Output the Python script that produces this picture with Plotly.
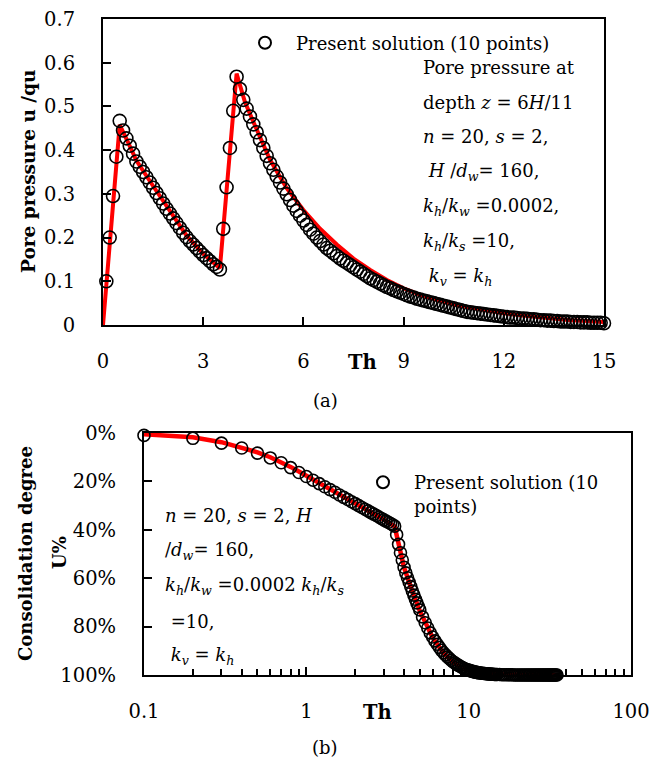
import plotly.graph_objects as go

# (a) pore pressure at depth z = 6H/11, present solution (circles)
t_a = [0.1, 0.2, 0.3, 0.4, 0.5, 0.6, 0.7, 0.8, 0.9, 1.0,
       1.1, 1.2, 1.3, 1.4, 1.5, 1.6, 1.7, 1.8, 1.9, 2.0,
       2.1, 2.2, 2.3, 2.4, 2.5, 2.6, 2.7, 2.8, 2.9, 3.0,
       3.1, 3.2, 3.3, 3.4, 3.5, 3.6, 3.7, 3.8, 3.9, 4.0,
       4.1, 4.2, 4.3, 4.4, 4.5, 4.6, 4.7, 4.8, 4.9, 5.0,
       5.1, 5.2, 5.3, 5.4, 5.5, 5.6, 5.7, 5.8, 5.9, 6.0,
       6.1, 6.2, 6.3, 6.4, 6.5, 6.6, 6.7, 6.8, 6.9, 7.0,
       7.1, 7.2, 7.3, 7.4, 7.5, 7.6, 7.7, 7.8, 7.9, 8.0,
       8.1, 8.2, 8.3, 8.4, 8.5, 8.6, 8.7, 8.8, 8.9, 9.0,
       9.1, 9.2, 9.3, 9.4, 9.5, 9.6, 9.7, 9.8, 9.9, 10.0,
       10.1, 10.2, 10.3, 10.4, 10.5, 10.6, 10.7, 10.8, 10.9, 11.0,
       11.1, 11.2, 11.3, 11.4, 11.5, 11.6, 11.7, 11.8, 11.9, 12.0,
       12.1, 12.2, 12.3, 12.4, 12.5, 12.6, 12.7, 12.8, 12.9, 13.0,
       13.1, 13.2, 13.3, 13.4, 13.5, 13.6, 13.7, 13.8, 13.9, 14.0,
       14.1, 14.2, 14.3, 14.4, 14.5, 14.6, 14.7, 14.8, 14.9, 15.0]
u_a = [0.100, 0.200, 0.295, 0.385, 0.467, 0.445, 0.427, 0.410, 0.392, 0.374,
       0.362, 0.350, 0.338, 0.326, 0.314, 0.302, 0.290, 0.278, 0.266, 0.255,
       0.244, 0.233, 0.222, 0.211, 0.201, 0.192, 0.184, 0.176, 0.168, 0.160,
       0.153, 0.146, 0.139, 0.133, 0.127, 0.220, 0.315, 0.405, 0.490, 0.568,
       0.540, 0.515, 0.495, 0.477, 0.459, 0.441, 0.423, 0.405, 0.387, 0.370,
       0.355, 0.340, 0.326, 0.312, 0.299, 0.286, 0.273, 0.261, 0.250, 0.239,
       0.229, 0.218, 0.209, 0.200, 0.192, 0.184, 0.176, 0.170, 0.164, 0.158,
       0.152, 0.147, 0.142, 0.137, 0.132, 0.127, 0.122, 0.117, 0.112, 0.107,
       0.103, 0.099, 0.095, 0.091, 0.087, 0.084, 0.080, 0.077, 0.074, 0.071,
       0.068, 0.065, 0.063, 0.060, 0.058, 0.056, 0.054, 0.052, 0.050, 0.048,
       0.046, 0.044, 0.042, 0.040, 0.038, 0.036, 0.034, 0.032, 0.030, 0.029,
       0.028, 0.027, 0.026, 0.025, 0.024, 0.023, 0.022, 0.021, 0.020, 0.019,
       0.018, 0.017, 0.017, 0.016, 0.015, 0.015, 0.014, 0.013, 0.013, 0.012,
       0.011, 0.011, 0.010, 0.010, 0.009, 0.009, 0.008, 0.008, 0.008, 0.007,
       0.007, 0.007, 0.006, 0.006, 0.006, 0.005, 0.005, 0.005, 0.005, 0.004]

# (a) analytical solution (red line)
t_a_line = [0, 0.5, 0.75, 1.0, 1.5, 2.0, 2.5, 3.0, 3.5, 4.0, 4.25, 4.5, 5.0, 5.5,
            6.0, 6.5, 7.0, 7.5, 8.0, 8.5, 9.0, 9.5, 10.0, 10.5, 11.0, 11.5,
            12.0, 12.5, 13.0, 13.5, 14.0, 14.5, 15.0]
u_a_line = [0, 0.458, 0.418, 0.376, 0.318, 0.260, 0.205, 0.163, 0.130, 0.575, 0.510,
            0.465, 0.378, 0.313, 0.263, 0.220, 0.184, 0.152, 0.126, 0.103, 0.084,
            0.069, 0.057, 0.047, 0.040, 0.033, 0.027, 0.022, 0.018, 0.014, 0.011,
            0.009, 0.007]

# (b) consolidation degree, present solution (circles)
t_b = [0.1, 0.2, 0.3, 0.4, 0.5, 0.6, 0.7, 0.8, 0.9, 1.0,
       1.1, 1.2, 1.3, 1.4, 1.5, 1.6, 1.7, 1.8, 1.9, 2.0,
       2.1, 2.2, 2.3, 2.4, 2.5, 2.6, 2.7, 2.8, 2.9, 3.0,
       3.1, 3.2, 3.3, 3.4, 3.5, 3.6, 3.7, 3.8, 3.9, 4.0,
       4.1, 4.2, 4.3, 4.4, 4.5, 4.6, 4.7, 4.8, 4.9, 5.0,
       5.2, 5.4, 5.6, 5.8, 6.0, 6.2, 6.4, 6.6, 6.8, 7.0,
       7.2, 7.4, 7.6, 7.8, 8.0, 8.2, 8.4, 8.6, 8.8, 9.0,
       9.2, 9.4, 9.6, 9.8, 10.0, 10.2, 10.4, 10.6, 10.8, 11.0,
       11.2, 11.4, 11.6, 11.8, 12.0, 12.2, 12.4, 12.6, 12.8, 13.0,
       13.2, 13.4, 13.6, 13.8, 14.0, 14.2, 14.4, 14.6, 14.8, 15.0,
       15.5, 16.0, 16.5, 17.0, 17.5, 18.0, 18.5, 19.0, 19.5, 20.0,
       20.5, 21.0, 21.5, 22.0, 22.5, 23.0, 23.5, 24.0, 24.5, 25.0,
       25.5, 26.0, 26.5, 27.0, 27.5, 28.0, 28.5, 29.0, 29.5, 30.0,
       30.5, 31.0, 31.5, 32.0, 32.5, 33.0, 33.5, 34.0, 34.5, 35.0]
U_b = [1.0, 2.2, 4.2, 6.2, 8.3, 10.3, 12.3, 14.3, 16.3, 18.0,
       19.5, 20.9, 22.2, 23.4, 24.5, 25.6, 26.6, 27.5, 28.4, 29.2,
       30.0, 30.8, 31.5, 32.2, 32.9, 33.5, 34.1, 34.7, 35.3, 35.9,
       36.4, 36.9, 37.4, 37.9, 38.5, 42.0, 46.0, 49.5, 52.5, 55.5,
       57.8, 59.8, 61.7, 63.5, 65.3, 67.0, 68.7, 70.2, 71.7, 73.1,
       76.0, 78.4, 80.6, 82.6, 84.3, 85.9, 87.3, 88.6, 89.8, 90.8,
       91.7, 92.5, 93.2, 93.9, 94.5, 95.0, 95.5, 95.9, 96.3, 96.7,
       97.0, 97.3, 97.6, 97.8, 98.0, 98.2, 98.4, 98.5, 98.7, 98.8,
       98.9, 99.0, 99.1, 99.2, 99.3, 99.3, 99.4, 99.4, 99.5, 99.5,
       99.6, 99.6, 99.6, 99.7, 99.7, 99.7, 99.8, 99.8, 99.8, 99.8,
       99.8, 99.9, 99.9, 99.9, 99.9, 99.9, 99.9, 100, 100, 100,
       100, 100, 100, 100, 100, 100, 100, 100, 100, 100,
       100, 100, 100, 100, 100, 100, 100, 100, 100, 100,
       100, 100, 100, 100, 100, 100, 100, 100, 100, 100]

# (b) analytical solution (red line)
t_b_line = [0.1, 0.2, 0.3, 0.4, 0.5, 0.6, 0.7, 0.8, 0.9, 1.0, 1.2, 1.5, 2.0, 2.5,
            3.0, 3.5, 3.6, 3.8, 4.0, 4.5, 5.0, 6.0, 7.0, 8.0, 9.0, 10.0, 12.0,
            15.0, 20.0, 35.0]
U_b_line = [0.5, 1.8, 3.8, 5.9, 8.0, 10.0, 12.0, 14.0, 15.9, 17.6, 20.6, 24.3, 29.0,
            32.8, 35.8, 38.6, 41.8, 49.3, 55.6, 65.5, 73.5, 84.5, 91.0, 94.7, 96.8,
            98.1, 99.3, 99.8, 100, 100]

a_xticks = [0, 3, 6, 9, 12, 15]
a_yticks = [0, 0.1, 0.2, 0.3, 0.4, 0.5, 0.6, 0.7]
a_yticklabels = ["0", "0.1", "0.2", "0.3", "0.4", "0.5", "0.6", "0.7"]
b_xticks = [0.1, 1, 10, 100]
b_xticklabels = ["0.1", "1", "10", "100"]
b_xminor = [0.2, 0.3, 0.4, 0.5, 0.6, 0.7, 0.8, 0.9, 2, 3, 4, 5, 6, 7, 8, 9,
            20, 30, 40, 50, 60, 70, 80, 90]
b_yticks = [0, 20, 40, 60, 80, 100]
b_yticklabels = ["0%", "20%", "40%", "60%", "80%", "100%"]

# the page body has an 8px margin, so the figure starts 8px in;
# every position below is given in window pixels
PAD = 8
W, H = 665 - PAD, 761 - PAD
FONT = "DejaVu Serif"
TICK = 19.5
TXT = 18


def px(x):
    return (x - PAD) / W


def py(y):
    return 1 - (y - PAD) / H


marker = dict(symbol="circle-open", size=13, color="black", line=dict(width=1.6))

fig = go.Figure()
fig.add_trace(go.Scatter(x=t_a_line, y=u_a_line, mode="lines", line=dict(color="red", width=4),
                         showlegend=False, xaxis="x", yaxis="y", cliponaxis=False))
fig.add_trace(go.Scatter(x=t_a, y=u_a, mode="markers", marker=marker, cliponaxis=False,
                         name="Present solution (10 points)", legend="legend", xaxis="x", yaxis="y"))
fig.add_trace(go.Scatter(x=t_b_line, y=U_b_line, mode="lines", line=dict(color="red", width=4.5),
                         showlegend=False, xaxis="x2", yaxis="y2", cliponaxis=False))
fig.add_trace(go.Scatter(x=t_b, y=U_b, mode="markers", marker=dict(marker, size=12), cliponaxis=False,
                         name="Present solution (10<br>points)", legend="legend2", xaxis="x2", yaxis="y2"))

axis_common = dict(showline=True, linecolor="black", linewidth=2, mirror=True, showgrid=False,
                   zeroline=False, ticks="inside", tickcolor="black", tickwidth=1.5, ticklen=8,
                   automargin=False, ticklabeloverflow="allow",
                   tickfont=dict(family=FONT, size=TICK, color="black"))

fig.update_layout(
    width=W, height=H,
    margin=dict(l=0, r=0, t=0, b=0, autoexpand=False),
    paper_bgcolor="white", plot_bgcolor="white",
    font=dict(family=FONT, size=TXT, color="black"),
    xaxis=dict(axis_common, domain=[px(103), px(604)], range=[0, 15], tickvals=a_xticks,
               ticklabelstandoff=18, anchor="y"),
    yaxis=dict(axis_common, domain=[py(325), py(19)], range=[0, 0.7], tickvals=a_yticks,
               ticktext=a_yticklabels, ticklabelstandoff=22, anchor="x"),
    xaxis2=dict(axis_common, type="log", domain=[px(144), px(631)], range=[-1, 2],
                tickvals=b_xticks, ticktext=b_xticklabels, ticklabelstandoff=18, anchor="y2",
                minor=dict(ticks="inside", ticklen=6, tickcolor="black", tickwidth=1.5,
                           tickvals=b_xminor)),
    yaxis2=dict(axis_common, domain=[py(675), py(433)], range=[100, 0], tickvals=b_yticks,
                ticktext=b_yticklabels, ticklabelstandoff=22, anchor="x2"),
    legend=dict(x=px(265 - 31), y=py(43), xanchor="left", yanchor="middle",
                bgcolor="rgba(0,0,0,0)", itemwidth=52, itemsizing="constant",
                font=dict(family=FONT, size=TXT, color="black")),
    legend2=dict(x=px(383 - 31), y=py(464), xanchor="left", yanchor="top", valign="top",
                 bgcolor="rgba(0,0,0,0)", itemwidth=52, itemsizing="constant",
                 font=dict(family=FONT, size=TXT, color="black")),
)

annotations = []


def note(x, y, text, size=TXT, xanchor="left", angle=0, bold=False):
    if bold:
        text = "<b>" + text + "</b>"
    annotations.append(dict(x=px(x), y=py(y), xref="paper", yref="paper", text=text,
                            showarrow=False, xanchor=xanchor, yanchor="middle", textangle=angle,
                            font=dict(family=FONT, size=size, color="black")))


# text block in (a)
a_lines = ["Pore pressure at",
           "depth <i>z</i> = 6<i>H</i>/11",
           "<i>n</i> = 20, <i>s</i> = 2,",
           "\u00a0<i>H</i> /<i>d</i><sub><i>w</i></sub>= 160,",
           "<i>k</i><sub><i>h</i></sub>/<i>k</i><sub><i>w</i></sub> =0.0002,",
           "<i>k</i><sub><i>h</i></sub>/<i>k</i><sub><i>s</i></sub> =10,",
           "\u00a0<i>k</i><sub><i>v</i></sub> = <i>k</i><sub><i>h</i></sub>"]
for i, s in enumerate(a_lines):
    note(421, 67 + 35 * i, s)

# text block in (b)
b_lines = ["<i>n</i> = 20, <i>s</i> = 2, <i>H</i>",
           "/<i>d</i><sub><i>w</i></sub>= 160,",
           "<i>k</i><sub><i>h</i></sub>/<i>k</i><sub><i>w</i></sub> =0.0002 "
           "<i>k</i><sub><i>h</i></sub>/<i>k</i><sub><i>s</i></sub>",
           "\u00a0=10,",
           "\u00a0<i>k</i><sub><i>v</i></sub> = <i>k</i><sub><i>h</i></sub>"]
for i, s in enumerate(b_lines):
    note(163, 516 + 35 * i, s)

note(362, 362, "Th", size=TICK, xanchor="center", bold=True)
note(377, 712, "Th", size=TICK, xanchor="center", bold=True)
note(325, 400, "(a)", size=TXT, xanchor="center")
note(325, 747, "(b)", size=TXT, xanchor="center")
note(28, 172, "Pore pressure u /qu", size=18.5, xanchor="center", angle=-90, bold=True)
note(25, 554, "Consolidation degree", size=18, xanchor="center", angle=-90, bold=True)
note(59, 553, "U%", size=18, xanchor="center", angle=-90, bold=True)

fig.update_layout(annotations=annotations)

fig.write_html("out.html")
